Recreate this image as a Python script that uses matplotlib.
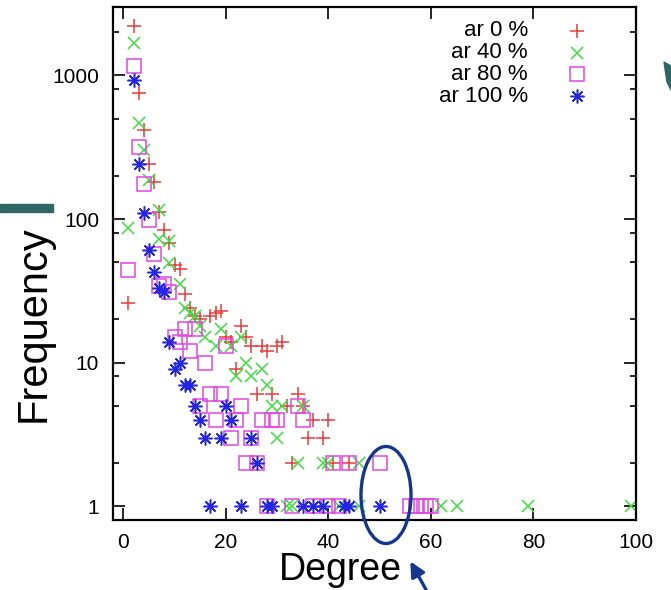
import matplotlib
matplotlib.use("Agg")
import matplotlib.pyplot as plt
from matplotlib import ticker
from matplotlib.patches import Rectangle, Ellipse, FancyArrowPatch, Polygon

plt.rcParams['font.family'] = ['Liberation Sans', 'DejaVu Sans']

# degree / frequency readings for each series
deg_0 = [1, 2, 3, 4, 5, 6, 7, 8, 9, 10, 11, 12, 13, 14, 15, 17, 18, 19,
         20, 21, 22, 23, 24, 25, 27, 28, 30, 31, 26, 29, 34, 32, 35, 37, 40,
         36, 39, 33, 41, 44]
freq_0 = [26, 2200, 750, 420, 240, 182, 112, 84, 68, 48, 45, 30, 24, 21, 20,
          21, 22, 23, 15, 14, 9, 18, 15, 13, 13, 12, 13, 14, 6, 6, 6, 5, 5, 4,
          4, 3, 3, 2, 2, 2]

deg_40 = [1, 2, 3, 4, 5, 7, 7, 9, 9, 11, 12, 13, 14, 15, 16, 18, 19, 21, 23,
          22, 24, 25, 27, 28, 29, 31, 35, 30, 34, 39, 40, 46, 32, 33, 42, 46,
          62, 65, 79, 99]
freq_40 = [86, 1680, 465, 303, 188, 115, 73, 70, 49, 35, 24, 22, 21, 18, 15,
           13, 17, 13, 15, 8, 10, 8, 9, 7, 5, 5, 5, 3, 2, 2, 2, 2, 1, 1, 1, 1,
           1, 1, 1, 1]

deg_80 = [1, 2, 3, 4, 5, 6, 7, 8, 9, 10, 11, 12, 13, 14, 16, 20, 17, 19, 15,
          23, 18, 22, 27, 29, 30, 35, 34, 21, 25, 24, 26, 41, 44, 50, 28, 33,
          37, 40, 42, 56, 57, 58, 59, 60]
freq_80 = [44, 1160, 318, 175, 98, 57, 34, 35, 31, 15, 14, 17, 12, 17, 10,
           13, 6, 6, 5, 5, 4, 4, 4, 4, 4, 4, 5, 3, 3, 2, 2, 2, 2, 2, 1, 1, 1,
           1, 1, 1, 1, 1, 1, 1]

deg_100 = [2, 3, 4, 5, 6, 7, 8, 9, 10, 11, 12, 13, 14, 20, 15, 21, 16, 19,
           25, 26, 17, 23, 28, 29, 35, 37, 39, 43, 44, 50]
freq_100 = [935, 242, 110, 61, 43, 33, 31, 14, 9, 10, 7, 7, 5, 5, 4, 4, 3, 3,
            3, 2, 1, 1, 1, 1, 1, 1, 1, 1, 1, 1]

labels = ['ar 0 %', 'ar 40 %', 'ar 80 %', 'ar 100 %']
xticks = [0, 20, 40, 60, 80, 100]
yticks = [1, 10, 100, 1000]
ytick_labels = ['1', '10', '100', '1000']

W, H = 671, 590


def fig_xy(x, y):
    return (x / W, 1 - y / H)


fig = plt.figure(figsize=(W / 100, H / 100), dpi=100)
ax = fig.add_axes([113 / W, 70 / H, 523 / W, 513 / H])

styles = [
    dict(marker='+', color='#e83c3c', ms=9.5, mew=1.1),
    dict(marker='x', color='#3cdc3c', ms=9, mew=1.1),
    dict(marker='s', color='#e048e0', ms=9.5, mew=1.1, mfc='none'),
    dict(marker=(8, 2, 0), color='#2424e6', ms=10, mew=1.1),
]
series = [(deg_0, freq_0), (deg_40, freq_40), (deg_80, freq_80),
          (deg_100, freq_100)]

for (xs, ys), st in zip(series, styles):
    ax.plot(xs, ys, ls='none', **st)

ax.set_yscale('log')
ax.set_xlim(-2, 100)
ax.set_ylim(0.8, 3000)
ax.set_xticks(xticks)
ax.set_xticklabels([str(t) for t in xticks])
ax.set_yticks(yticks)
ax.set_yticklabels(ytick_labels)
ax.yaxis.set_minor_locator(ticker.LogLocator(base=10, subs=(2, 5, 8)))
ax.yaxis.set_minor_formatter(ticker.NullFormatter())

ax.tick_params(which='both', direction='in', top=True, right=True,
               width=1.2, labelsize=15)
ax.tick_params(which='major', length=8.5)
ax.tick_params(axis='y', which='major', pad=10)
ax.tick_params(axis='x', which='major', pad=9)
ax.tick_params(which='minor', length=4.5)
for s in ax.spines.values():
    s.set_linewidth(1.6)

# legend drawn gnuplot-style: right aligned text, marker to the right
for i, (lab, st) in enumerate(zip(labels, styles)):
    yy = 1 - (31 + 21.7 * i - 7) / 513
    ax.text((528 - 113) / 523, yy, lab, transform=ax.transAxes,
            ha='right', va='center', fontsize=16)
    ax.plot([(577 - 113) / 523], [yy], transform=ax.transAxes,
            ls='none', **st)

# slide labels
fig.text(*fig_xy(45, 324), 'Frequency', rotation=90, rotation_mode='anchor',
         ha='center', va='baseline', fontsize=30)
fig.text(*fig_xy(340, 580), 'Degree', ha='center', va='baseline',
         fontsize=27)

# slide decorations
teal = '#2f6666'
fig.add_artist(Rectangle(fig_xy(0, 212), 53 / W, 8 / H, color=teal,
                         transform=fig.transFigure))
fig.add_artist(Polygon([fig_xy(664, 62), fig_xy(671, 66), fig_xy(671, 90),
                        fig_xy(667, 82)], closed=True, color=teal,
                       transform=fig.transFigure))
navy = '#15358f'
fig.add_artist(Ellipse(fig_xy(386, 495), 50 / W, 97 / H, fill=False,
                       ec=navy, lw=2.4, transform=fig.transFigure))
fig.add_artist(FancyArrowPatch(fig_xy(429, 595), fig_xy(409, 559),
                               arrowstyle='-|>', mutation_scale=22, lw=2.4,
                               color=navy, transform=fig.transFigure))

fig.savefig('out.png', dpi=100)
